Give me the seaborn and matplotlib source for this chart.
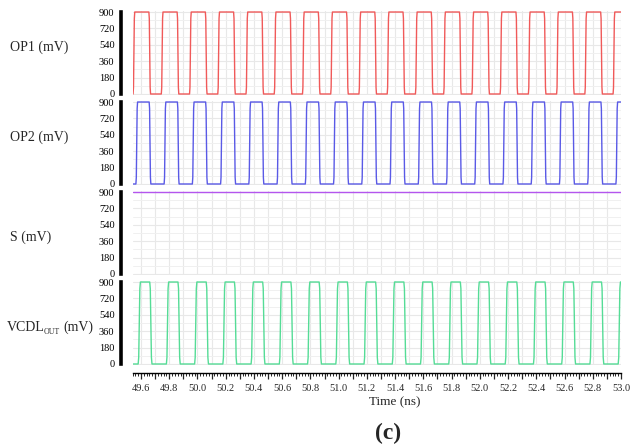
import numpy as np
import pandas as pd
import matplotlib
matplotlib.use("Agg")
import matplotlib.pyplot as plt
import matplotlib.ticker as mticker
import seaborn as sns

# Signal data (times in ns, levels in mV)
op1_rise = [49.55, 49.75, 49.95, 50.15, 50.35, 50.55, 50.75, 50.95, 51.15,
            51.35, 51.55, 51.75, 51.95, 52.15, 52.35, 52.55, 52.75, 52.95]
op1_width = 0.112
op2_rise = [49.57, 49.77, 49.97, 50.17, 50.37, 50.57, 50.77, 50.97, 51.17,
            51.37, 51.57, 51.77, 51.97, 52.17, 52.37, 52.57, 52.77, 52.97]
op2_width = 0.094
vcdl_rise = [49.588, 49.788, 49.988, 50.188, 50.388, 50.588, 50.788, 50.988, 51.188,
             51.388, 51.588, 51.788, 51.988, 52.188, 52.388, 52.588, 52.788, 52.988]
vcdl_width = 0.082
s_level = 895
v_high = 900
v_low = 0
t_start, t_end = 49.54, 53.0

# edge shape (fraction of swing along the transition) and transition times
edge_shape = [0.0, 0.08, 0.5, 0.92, 1.0]
edge_time = {'OP1': 0.012, 'OP2': 0.012, 'VCDL': 0.016}

def waveform(rises, width, tr):
    t, v = [t_start], [v_low]
    n = len(edge_shape)
    for r in rises:
        for i, f in enumerate(edge_shape):
            t.append(r - tr / 2 + tr * i / (n - 1))
            v.append(v_low + (v_high - v_low) * f)
        fall = r + width
        for i, f in enumerate(edge_shape):
            t.append(fall - tr / 2 + tr * i / (n - 1))
            v.append(v_high - (v_high - v_low) * f)
    t.append(t_end + 0.1)
    v.append(v[-1])
    return pd.DataFrame({'t': t, 'v': v})

signals = [
    ('OP1 (mV)', waveform(op1_rise, op1_width, edge_time['OP1']), '#f05a5a', 47),
    ('OP2 (mV)', waveform(op2_rise, op2_width, edge_time['OP2']), '#5a5ae6', 137),
    ('S (mV)', pd.DataFrame({'t': [t_start, t_end], 'v': [s_level, s_level]}), '#b455ee', 237),
    (None, waveform(vcdl_rise, vcdl_width, edge_time['VCDL']), '#55dc96', 327),
]

sns.set_style("white")
plt.rcParams['font.family'] = ['Liberation Serif', 'DejaVu Serif']

W, H = 630, 448
fig = plt.figure(figsize=(W / 100, H / 100), dpi=100)

left_px, right_px = 132.5, 621
for i, (label, df, color, label_y) in enumerate(signals):
    bottom_px = 94.9 + 90 * i
    ax = fig.add_axes([left_px / W, (H - bottom_px) / H, (right_px - left_px) / W, 83.8 / H])
    sns.lineplot(data=df, x='t', y='v', ax=ax, color=color, linewidth=1.0,
                 estimator=None, sort=False)
    ax.set_xlim(t_start, t_end)
    ax.set_ylim(-10, 910)
    ax.yaxis.set_major_locator(mticker.MultipleLocator(180))
    ax.yaxis.set_minor_locator(mticker.MultipleLocator(90))
    ax.xaxis.set_major_locator(mticker.MultipleLocator(0.1))
    ax.xaxis.set_minor_locator(mticker.MultipleLocator(0.02))
    ax.grid(which='major', color='#e8e8e8', linewidth=0.8)
    ax.grid(which='minor', axis='y', color='#f0f0f0', linewidth=0.7)
    ax.set_axisbelow(True)
    for side in ['top', 'right']:
        ax.spines[side].set_visible(False)
    ax.spines['left'].set_position(('outward', 8))
    ax.spines['left'].set_bounds(0, 900)
    ax.spines['left'].set_linewidth(2.6)
    ax.spines['left'].set_color('black')
    ax.tick_params(axis='y', which='major', length=3, width=1, labelsize=7.5, pad=2, colors='black')
    ax.tick_params(axis='y', which='minor', length=2, width=0.8)
    ax.set_xlabel('')
    ax.set_ylabel('')
    yl = 1 - label_y / H
    if label is not None:
        fig.text(10 / W, yl, label, ha='left', va='center', fontsize=10)
    else:
        fig.text(7 / W, yl, 'VCDL', ha='left', va='center', fontsize=10)
        fig.text(43.5 / W, yl - 5 / H, 'OUT', ha='left', va='center', fontsize=5.6)
        fig.text(63 / W, yl, '(mV)', ha='left', va='center', fontsize=10)
    if i < 3:
        ax.spines['bottom'].set_visible(False)
        ax.tick_params(axis='x', which='both', bottom=False, labelbottom=False)
    else:
        ax.spines['bottom'].set_position(('outward', 6))
        ax.spines['bottom'].set_linewidth(1)
        ax.spines['bottom'].set_color('black')
        ax.tick_params(axis='x', which='major', length=4, width=0.9, labelsize=7.5, pad=4, bottom=True)
        ax.tick_params(axis='x', which='minor', length=2.2, width=0.7, bottom=True)
        ax.xaxis.set_major_formatter(mticker.FuncFormatter(
            lambda x, pos: f'{x:.1f}' if abs(round(x * 10) % 2) == 0 else ''))

fig.text(395 / W, 1 - 402 / H, 'Time (ns)', ha='center', va='center', fontsize=9.5)
fig.text(388 / W, 1 - 433 / H, '(c)', ha='center', va='center', fontsize=17, fontweight='bold')

fig.savefig('out.png', dpi=100)
